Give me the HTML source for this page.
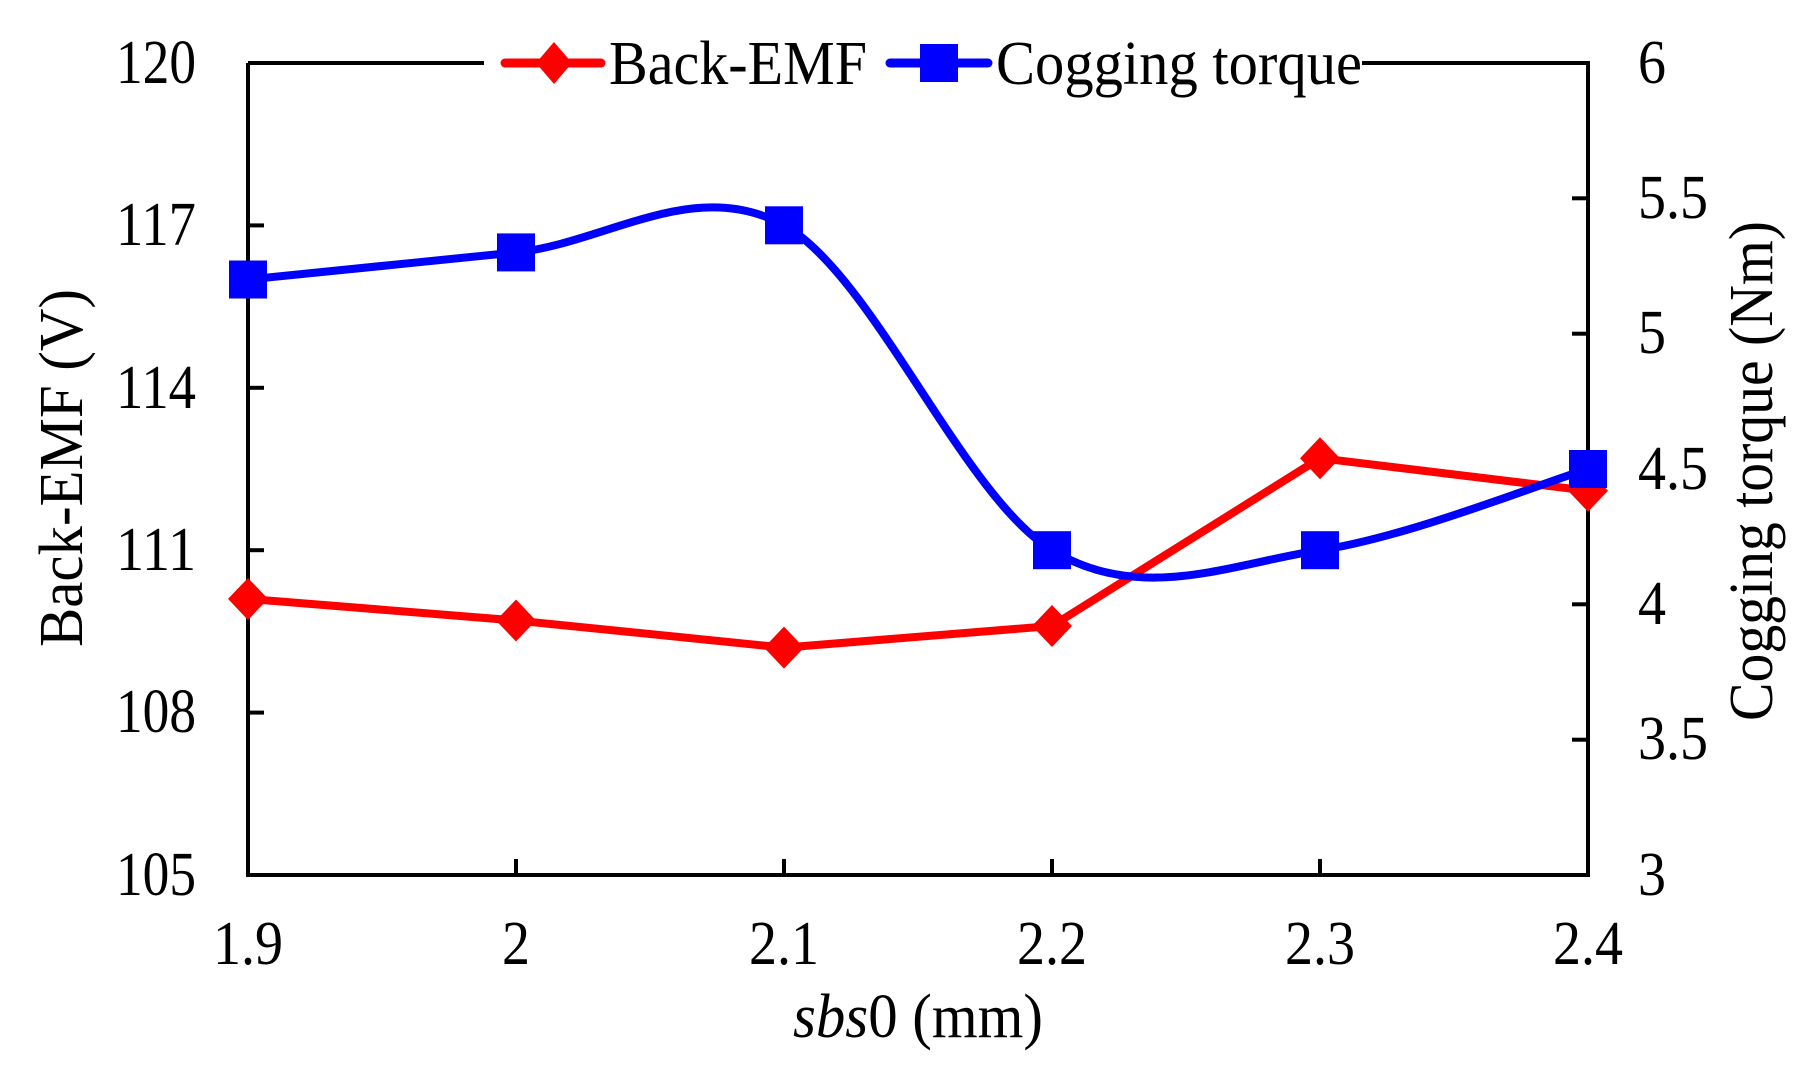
<!DOCTYPE html>
<html><head><meta charset="utf-8"><style>html,body{margin:0;padding:0;background:#fff}</style></head>
<body>
<svg width="1812" height="1076" xmlns="http://www.w3.org/2000/svg" font-family="Liberation Serif, serif" fill="#000">
<rect width="1812" height="1076" fill="#fff"/>
<g stroke="#000" stroke-width="4" fill="none">
<polyline points="248,63 248,875 1588,875 1588,63 248,63"/>
<line x1="248" y1="225.4" x2="264" y2="225.4"/>
<line x1="248" y1="387.8" x2="264" y2="387.8"/>
<line x1="248" y1="550.2" x2="264" y2="550.2"/>
<line x1="248" y1="712.6" x2="264" y2="712.6"/>
<line x1="1588" y1="198.3" x2="1572" y2="198.3"/>
<line x1="1588" y1="333.7" x2="1572" y2="333.7"/>
<line x1="1588" y1="469" x2="1572" y2="469"/>
<line x1="1588" y1="604.3" x2="1572" y2="604.3"/>
<line x1="1588" y1="739.7" x2="1572" y2="739.7"/>
<line x1="516" y1="875" x2="516" y2="859"/>
<line x1="784" y1="875" x2="784" y2="859"/>
<line x1="1052" y1="875" x2="1052" y2="859"/>
<line x1="1320" y1="875" x2="1320" y2="859"/>
</g>
<g font-size="62" text-anchor="end" lengthAdjust="spacingAndGlyphs">
<text x="196" y="83" textLength="80" lengthAdjust="spacingAndGlyphs">120</text>
<text x="196" y="245" textLength="80" lengthAdjust="spacingAndGlyphs">117</text>
<text x="196" y="408" textLength="80" lengthAdjust="spacingAndGlyphs">114</text>
<text x="196" y="570" textLength="80" lengthAdjust="spacingAndGlyphs">111</text>
<text x="196" y="732" textLength="80" lengthAdjust="spacingAndGlyphs">108</text>
<text x="196" y="895" textLength="80" lengthAdjust="spacingAndGlyphs">105</text>
</g>
<g font-size="62" text-anchor="start">
<text x="1638" y="83" textLength="28" lengthAdjust="spacingAndGlyphs">6</text>
<text x="1638" y="218" textLength="70" lengthAdjust="spacingAndGlyphs">5.5</text>
<text x="1638" y="353" textLength="28" lengthAdjust="spacingAndGlyphs">5</text>
<text x="1638" y="489" textLength="70" lengthAdjust="spacingAndGlyphs">4.5</text>
<text x="1638" y="624" textLength="28" lengthAdjust="spacingAndGlyphs">4</text>
<text x="1638" y="759" textLength="70" lengthAdjust="spacingAndGlyphs">3.5</text>
<text x="1638" y="895" textLength="28" lengthAdjust="spacingAndGlyphs">3</text>
</g>
<g font-size="62" text-anchor="middle">
<text x="248" y="964" textLength="70" lengthAdjust="spacingAndGlyphs">1.9</text>
<text x="516" y="964" textLength="28" lengthAdjust="spacingAndGlyphs">2</text>
<text x="784" y="964" textLength="70" lengthAdjust="spacingAndGlyphs">2.1</text>
<text x="1052" y="964" textLength="70" lengthAdjust="spacingAndGlyphs">2.2</text>
<text x="1320" y="964" textLength="70" lengthAdjust="spacingAndGlyphs">2.3</text>
<text x="1588" y="964" textLength="70" lengthAdjust="spacingAndGlyphs">2.4</text>
</g>
<text x="918" y="1037" font-size="62" text-anchor="middle" textLength="250" lengthAdjust="spacingAndGlyphs"><tspan font-style="italic">sbs</tspan>0 (mm)</text>
<text transform="translate(82,468) rotate(-90)" font-size="62" text-anchor="middle" textLength="358" lengthAdjust="spacingAndGlyphs">Back-EMF (V)</text>
<text transform="translate(1772,471) rotate(-90)" font-size="62" text-anchor="middle" textLength="500" lengthAdjust="spacingAndGlyphs">Cogging torque (Nm)</text>
<polyline points="248,598.9 516,620.5 784,647.6 1052,626 1320,458.2 1588,490.7" fill="none" stroke="#ff0000" stroke-width="8" stroke-linejoin="round"/>
<g fill="#ff0000">
<polygon points="248,578 268,598.9 248,620 228,598.9"/>
<polygon points="516,599.5 536,620.5 516,641.5 496,620.5"/>
<polygon points="784,626.6 804,647.6 784,668.6 764,647.6"/>
<polygon points="1052,605 1072,626 1052,647 1032,626"/>
<polygon points="1320,437.2 1340,458.2 1320,479.2 1300,458.2"/>
<polygon points="1588,469.7 1608,490.7 1588,511.7 1568,490.7"/>
</g>
<path d="M248,279.5 C292.7,275 426.7,261.4 516,252.4 C605.3,243.4 694.7,175.7 784,225.3 C873.3,274.9 962.7,496 1052,550.2 C1141.3,604.4 1230.7,563.7 1320,550.2 C1409.3,536.7 1543.3,482.5 1588,469" fill="none" stroke="#0000ff" stroke-width="8"/>
<g fill="#0000ff">
<rect x="229" y="260.5" width="38" height="38"/>
<rect x="497" y="233.4" width="38" height="38"/>
<rect x="765" y="206.3" width="38" height="38"/>
<rect x="1033" y="531.2" width="38" height="38"/>
<rect x="1301" y="531.2" width="38" height="38"/>
<rect x="1569" y="450" width="38" height="38"/>
</g>
<rect x="484" y="28" width="878" height="70" fill="#fff"/>
<line x1="505" y1="63" x2="601" y2="63" stroke="#ff0000" stroke-width="9" stroke-linecap="round"/>
<polygon points="554,42 572,63 554,84 536,63" fill="#ff0000"/>
<text x="609" y="84" font-size="62" textLength="258" lengthAdjust="spacingAndGlyphs">Back-EMF</text>
<line x1="890" y1="63" x2="988" y2="63" stroke="#0000ff" stroke-width="9" stroke-linecap="round"/>
<rect x="920" y="44" width="38" height="38" fill="#0000ff"/>
<text x="996" y="84" font-size="62" textLength="366" lengthAdjust="spacingAndGlyphs">Cogging torque</text>
</svg>
</body></html>
